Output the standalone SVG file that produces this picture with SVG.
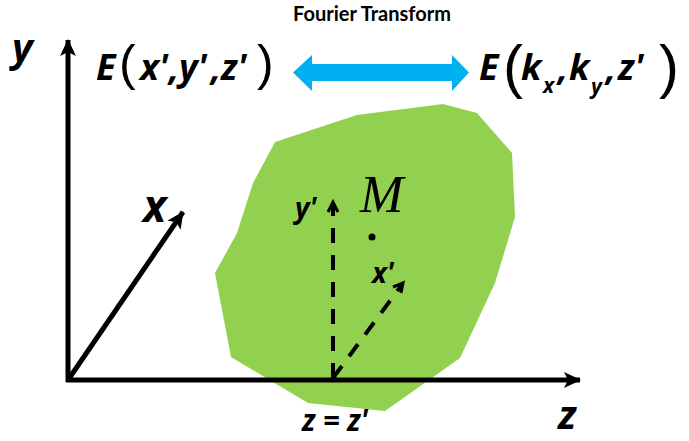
<svg xmlns="http://www.w3.org/2000/svg" width="689" height="441" viewBox="0 0 689 441">
<style>
.m{font-family:"Open Sans","Liberation Sans",sans-serif;font-weight:bold;font-style:italic;fill:#000}
.p{font-family:"Liberation Sans",sans-serif;font-weight:normal;fill:#000}
.ax{stroke:#000;stroke-width:5;fill:none}
.dash{stroke:#000;stroke-width:4;fill:none;stroke-dasharray:15 12}
.head{stroke:#000;stroke-width:3;fill:none}
</style>
<defs>
<marker id="ah" markerUnits="userSpaceOnUse" markerWidth="20" markerHeight="18" refX="16" refY="8" orient="auto" viewBox="0 0 20 16">
<path d="M0,0 L17,8 L0,16 L4,8 z" fill="#000"/>
</marker>
</defs>
<rect width="689" height="441" fill="#fff"/>
<g id="plane">
<polygon points="275,142 357,115 443,104 477,113 512,153 515,217 495,283 460,358 385,411 308,403 231,357 215,273 237,233 253,183" fill="#92D050"/>
</g>
<g id="connectors">
<line class="ax" x1="68" y1="382" x2="68" y2="40" marker-end="url(#ah)"/>
<line class="ax" x1="66" y1="380" x2="580" y2="380" marker-end="url(#ah)"/>
<line class="ax" x1="68" y1="380" x2="183" y2="212" marker-end="url(#ah)"/>
<line class="dash" x1="333" y1="378" x2="333" y2="204"/>
<polyline class="head" points="328,212 333,202 338,212"/>
<line class="dash" x1="333" y1="378" x2="401" y2="286"/>
<polyline class="head" points="393,287 403,283 401,293"/>
<path id="ft-arrow" d="M293,72.5 L312,55 L312,64 L452,64 L452,55 L469,72.5 L452,91 L452,81 L312,81 L312,91 z" fill="#00B0F0"/>
</g>
<g id="title">
<text x="372" y="21" text-anchor="middle" style="font-family:Lato,'Open Sans',sans-serif;font-weight:bold;font-size:20px">Fourier Transform</text>
</g>
<g id="axis-labels">
<text class="m" x="12" y="62" font-size="40">y</text>
<text class="m" x="143" y="222" font-size="44">x</text>
<text class="m" x="558" y="429" font-size="40">z</text>
<text class="m" x="302" y="431" font-size="31" textLength="66" lengthAdjust="spacingAndGlyphs">z = z'</text>
</g>
<g id="space-expr">
<text class="m" x="96" y="80" font-size="36">E</text>
<text class="p" x="119" y="80" font-size="50">(</text>
<text class="m" x="140" y="80" font-size="36">x'</text>
<text class="m" x="169" y="80" font-size="36">,</text>
<text class="m" x="179" y="80" font-size="36">y'</text>
<text class="m" x="211" y="80" font-size="36">,</text>
<text class="m" x="221" y="80" font-size="36">z'</text>
<text class="p" x="257" y="80" font-size="50">)</text>
</g>
<g id="freq-expr">
<text class="m" x="479" y="80" font-size="36">E</text>
<text class="p" x="503" y="87" font-size="60">(</text>
<text class="m" x="521" y="80" font-size="36">k</text>
<text class="m" x="543" y="93" font-size="21">x</text>
<text class="m" x="558" y="80" font-size="36">,</text>
<text class="m" x="569" y="80" font-size="36">k</text>
<text class="m" x="591" y="94" font-size="21">y</text>
<text class="m" x="606" y="80" font-size="36">,</text>
<text class="m" x="618" y="80" font-size="36">z'</text>
<text class="p" x="659" y="87" font-size="60">)</text>
</g>
<g id="point-M">
<text x="360" y="212" style="font-family:'Liberation Serif',serif;font-style:italic;font-size:52px">M</text>
<circle cx="372" cy="237" r="3.5" fill="#000"/>
<text class="m" x="295" y="218" font-size="28">y'</text>
<text class="m" x="372" y="283" font-size="28">x'</text>
</g>
</svg>
